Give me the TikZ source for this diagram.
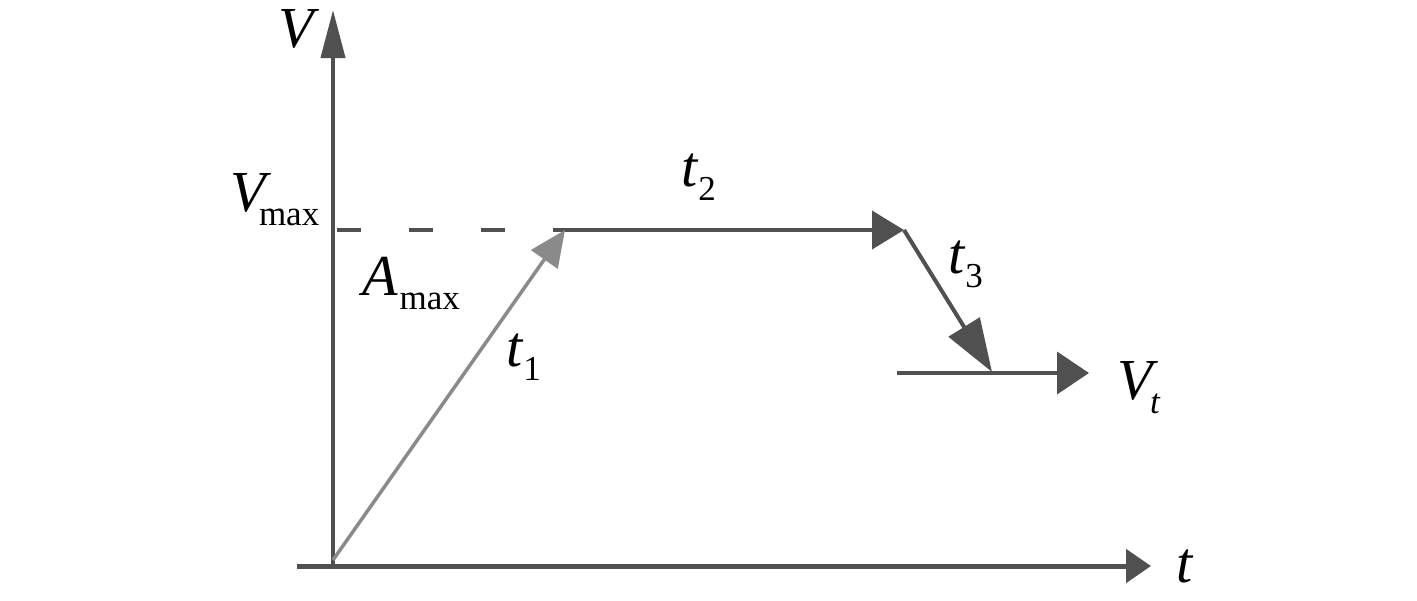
\documentclass[tikz,border=0pt]{standalone}
\usepackage{fontspec}
\setmainfont{Liberation Serif}
\usetikzlibrary{arrows.meta}
\definecolor{dk}{HTML}{505050}
\definecolor{lt}{HTML}{8A8A8A}
\newcommand\mainsz{\fontsize{29}{29}\selectfont}
\newcommand\subsz{\fontsize{17.5}{17.5}\selectfont}
\newcommand\lbl[3][0pt]{\mainsz\textit{#2}\kern#1\raisebox{-7pt}{\subsz #3}}
\begin{document}
\begin{tikzpicture}[x=0.5pt,y=-0.5pt,
  lab/.style={inner sep=0pt,outer sep=0pt,anchor=base west,text=black},
  axisline/.style={draw=dk,line width=2pt},
  seg/.style={draw=dk,line width=2pt}]
\useasboundingbox (0,0) rectangle (1417,600);
\fill[white] (0,0) rectangle (1417,600);
% coordinates
\coordinate (O) at (333,566);
\coordinate (Vtop) at (333,10);
\coordinate (Ts) at (297,566);
\coordinate (Te) at (1151,566);
\coordinate (D0) at (337,230);
\coordinate (O1) at (333,560);
\coordinate (P1) at (565,230);
\coordinate (P2) at (904,230);
\coordinate (P3) at (992,372);
\coordinate (Q0) at (897,373);
\coordinate (Q1) at (1089,373);
% axes
\draw[axisline,-{Triangle[length=24pt,width=12pt]}] (O) -- (Vtop);
\draw[draw=dk,line width=2.5pt,-{Triangle[length=12.5pt,width=16.5pt]}] (Ts) -- (Te);
% dashed Vmax line
\draw[draw=dk,line width=2.2pt,dash pattern=on 12pt off 24pt] (D0) -- (P1);
% t1 acceleration
\draw[draw=lt,fill=lt,line width=1.75pt,-{Triangle[length=18pt,width=16pt]}] (O1) -- (P1);
% t2 constant
\draw[seg,-{Triangle[length=16pt,width=19pt]}] (P1) -- (P2);
% t3 deceleration
\draw[seg,-{Triangle[length=26.5pt,width=18pt]}] (P2) -- (P3);
% Vt
\draw[seg,-{Triangle[length=16pt,width=21pt]}] (Q0) -- (Q1);
% labels
\node[lab] (lV) at (278,47) {\mainsz\textit{V}};
\node[lab] (lVmax) at (230,211) {\lbl[-6pt]{V}{max}};
\node[lab] (lAmax) at (362,295) {\lbl[1pt]{A}{max}};
\node[lab] (lt1) at (506,366) {\lbl{t}{1}};
\node[lab] (lt2) at (681,186) {\lbl{t}{2}};
\node[lab] (lt3) at (948,273) {\lbl{t}{3}};
\node[lab] (lVt) at (1117,399) {\lbl[-4pt]{V}{\textit{t}}};
\node[lab] (lt) at (1176,582) {\mainsz\textit{t}};
\end{tikzpicture}
\end{document}
